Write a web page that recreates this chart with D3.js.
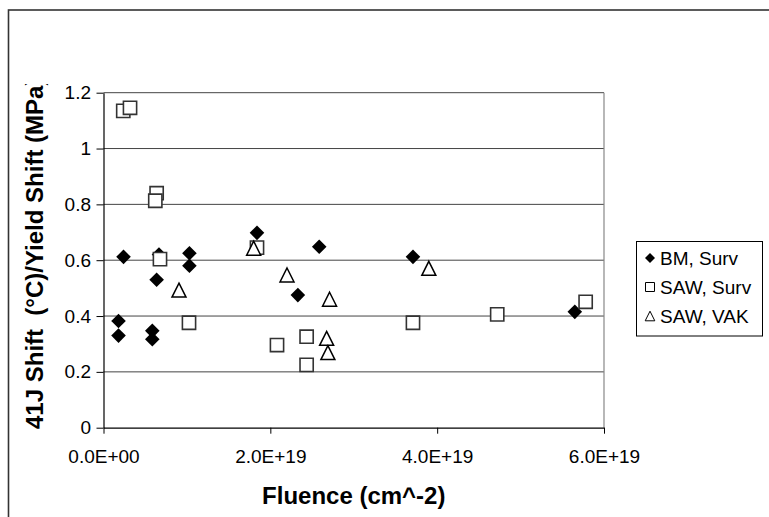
<!DOCTYPE html>
<html>
<head>
<meta charset="utf-8">
<script src="https://cdn.jsdelivr.net/npm/d3@7"></script>
<style>
  body { margin: 0; background: #fff; }
  svg { display: block; font-family: "Liberation Sans", Arial, sans-serif; }
</style>
</head>
<body>
<div id="chart"></div>
<script>
// fluence in units of 1E19 cm^-2, shift ratio
const bmSurvX = [0.18, 0.18, 0.24, 0.585, 0.585, 0.637, 0.665, 1.03, 1.03, 1.84, 2.33, 2.586, 3.71, 5.65];
const bmSurvY = [0.382, 0.33, 0.612, 0.347, 0.317, 0.53, 0.62, 0.625, 0.58, 0.698, 0.475, 0.648, 0.612, 0.415];

const sawSurvX = [0.237, 0.318, 0.637, 0.621, 0.677, 1.025, 1.84, 2.08, 2.435, 2.435, 3.71, 4.72, 5.78];
const sawSurvY = [1.135, 1.146, 0.84, 0.813, 0.604, 0.376, 0.645, 0.296, 0.326, 0.225, 0.376, 0.406, 0.451];

const sawVakX = [0.905, 1.80, 2.20, 2.71, 2.675, 2.69, 3.90];
const sawVakY = [0.493, 0.643, 0.547, 0.46, 0.32, 0.269, 0.571];

const seriesNames = ["BM, Surv", "SAW, Surv", "SAW, VAK"];

const xTicks = [0, 2, 4, 6];
const xTickLabels = ["0.0E+00", "2.0E+19", "4.0E+19", "6.0E+19"];
const yTicks = [0, 0.2, 0.4, 0.6, 0.8, 1, 1.2];
const yTickLabels = ["0", "0.2", "0.4", "0.6", "0.8", "1", "1.2"];

const xTitle = "Fluence (cm^-2)";
const yTitle = "41J Shift  (\u00B0C)/Yield Shift (MPa)";

const W = 769, H = 517;
const plot = { left: 103.5, right: 604, top: 92.7, bottom: 427.7 };

const x = d3.scaleLinear().domain([0, 6]).range([plot.left, plot.right]);
const y = d3.scaleLinear().domain([0, 1.2]).range([plot.bottom, plot.top]);

const svg = d3.select("#chart").append("svg")
    .attr("width", W)
    .attr("height", H);

// outer chart border (runs off right and bottom)
svg.append("rect")
    .attr("x", 8.5).attr("y", 10)
    .attr("width", 900).attr("height", 700)
    .attr("fill", "none")
    .attr("stroke", "#333")
    .attr("stroke-width", 1.6);

// gridlines
svg.append("g")
  .selectAll("line")
  .data(yTicks.filter(d => d > 0))
  .join("line")
    .attr("x1", plot.left).attr("x2", plot.right)
    .attr("y1", d => y(d)).attr("y2", d => y(d))
    .attr("stroke", "#444")
    .attr("stroke-width", 1);

// right border of plot area
svg.append("line")
    .attr("x1", plot.right).attr("x2", plot.right)
    .attr("y1", plot.top).attr("y2", plot.bottom)
    .attr("stroke", "#888")
    .attr("stroke-width", 1.2);

// axes
const xAxis = d3.axisBottom(x)
    .tickValues(xTicks)
    .tickFormat((d, i) => xTickLabels[i])
    .tickSizeInner(6).tickSizeOuter(0).tickPadding(16);

const yAxis = d3.axisLeft(y)
    .tickValues(yTicks)
    .tickFormat((d, i) => yTickLabels[i])
    .tickSizeInner(7).tickSizeOuter(0).tickPadding(5.5);

const gx = svg.append("g")
    .attr("transform", `translate(0,${plot.bottom})`)
    .call(xAxis);

const gy = svg.append("g")
    .attr("transform", `translate(${plot.left},0)`)
    .call(yAxis);

[gx, gy].forEach(g => {
  g.select(".domain").attr("stroke", "#000").attr("stroke-width", 1.2);
  g.selectAll(".tick line").attr("stroke", "#000").attr("stroke-width", 1);
  g.selectAll(".tick text")
      .attr("fill", "#000")
      .attr("font-size", 19)
      .attr("font-family", "'Liberation Sans', Arial, sans-serif");
});

// marker shapes
function diamond(cx, cy, r) {
  return `M${cx},${cy - r}L${cx + r},${cy}L${cx},${cy + r}L${cx - r},${cy}Z`;
}
function square(cx, cy, r) {
  return `M${cx - r},${cy - r}H${cx + r}V${cy + r}H${cx - r}Z`;
}
function triangle(cx, cy, r) {
  return `M${cx},${cy - r}L${cx + r},${cy + r}L${cx - r},${cy + r}Z`;
}

const bmData = bmSurvX.map((v, i) => [v, bmSurvY[i]]);
const sawSurvData = sawSurvX.map((v, i) => [v, sawSurvY[i]]);
const sawVakData = sawVakX.map((v, i) => [v, sawVakY[i]]);

svg.append("g").selectAll("path")
  .data(bmData)
  .join("path")
    .attr("d", d => diamond(x(d[0]), y(d[1]), 7.3))
    .attr("fill", "#000");

svg.append("g").selectAll("path")
  .data(sawSurvData)
  .join("path")
    .attr("d", d => square(x(d[0]), y(d[1]), 6.6))
    .attr("fill", "#fff")
    .attr("stroke", "#333")
    .attr("stroke-width", 1.6);

svg.append("g").selectAll("path")
  .data(sawVakData)
  .join("path")
    .attr("d", d => triangle(x(d[0]), y(d[1]), 7))
    .attr("fill", "#fff")
    .attr("stroke", "#000")
    .attr("stroke-width", 1.5);

// axis titles
svg.append("text")
    .attr("x", (plot.left + plot.right) / 2)
    .attr("y", 504)
    .attr("text-anchor", "middle")
    .attr("font-size", 24)
    .attr("font-weight", "bold")
    .text(xTitle);

// y title is cut off at the top, as in the original
svg.append("clipPath").attr("id", "ytclip")
  .append("rect")
    .attr("x", 0).attr("y", 84)
    .attr("width", 100).attr("height", 440);

svg.append("g")
    .attr("clip-path", "url(#ytclip)")
  .append("text")
    .attr("transform", "translate(42.5,429) rotate(-90)")
    .attr("text-anchor", "start")
    .attr("font-size", 24)
    .attr("font-weight", "bold")
    .style("white-space", "pre")
    .text(yTitle);

// legend
const legend = svg.append("g");
legend.append("rect")
    .attr("x", 636.5).attr("y", 241.5)
    .attr("width", 126).attr("height", 94.5)
    .attr("fill", "#fff")
    .attr("stroke", "#000")
    .attr("stroke-width", 1);

const legendShapes = [
  (cx, cy) => diamond(cx, cy, 5),
  (cx, cy) => square(cx, cy, 4.5),
  (cx, cy) => triangle(cx, cy, 4.8)
];
const legendFill = ["#000", "#fff", "#fff"];
const legendRows = seriesNames.map((name, i) => ({ name, i, cy: 258 + i * 29 }));

legend.selectAll("path")
  .data(legendRows)
  .join("path")
    .attr("d", d => legendShapes[d.i](650, d.cy))
    .attr("fill", d => legendFill[d.i])
    .attr("stroke", d => d.i === 0 ? "none" : "#000")
    .attr("stroke-width", 1);

legend.selectAll("text")
  .data(legendRows)
  .join("text")
    .attr("x", 660)
    .attr("y", d => d.cy + 7)
    .attr("font-size", 19)
    .text(d => d.name);
</script>
</body>
</html>
